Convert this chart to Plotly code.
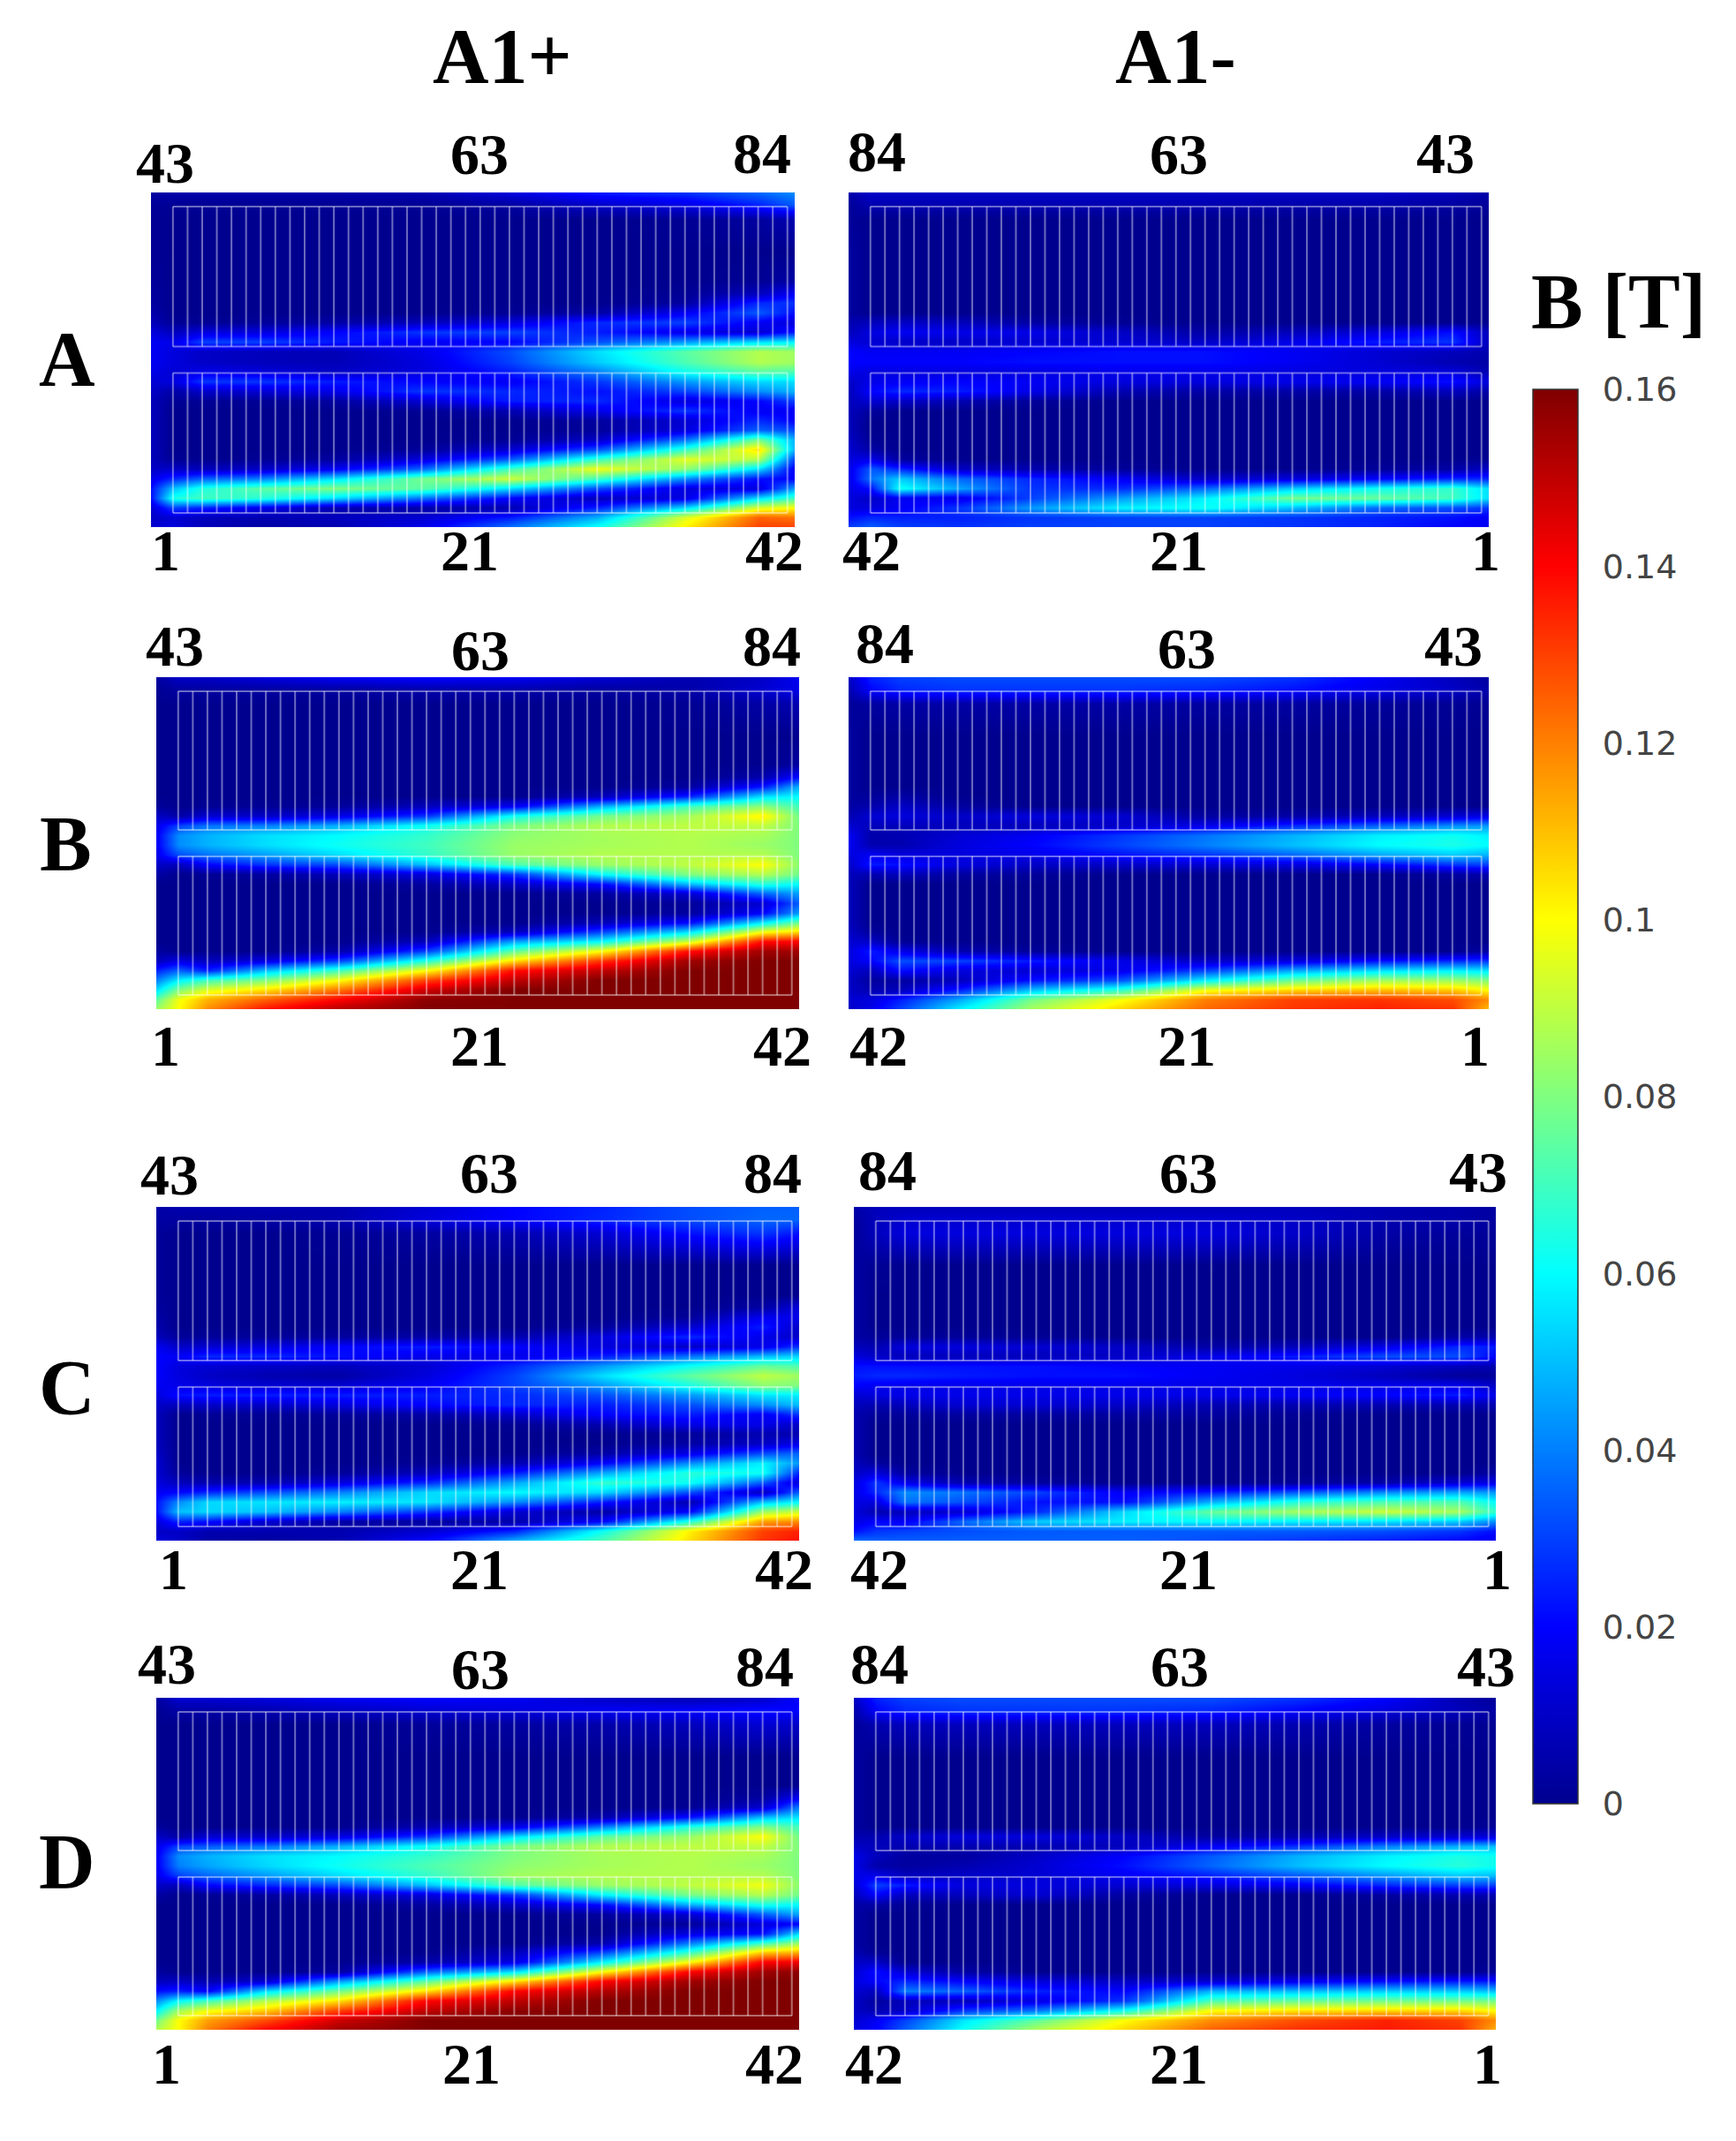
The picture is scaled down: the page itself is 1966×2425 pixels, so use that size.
import plotly.graph_objects as go

W, H = 1966, 2425
PAGE_PAD = 8  # browser body margin
SHRINK = 1966 / 1271  # label spots

# field samples in mT, rows top to bottom, columns left to right
x_cols = [-1.5, 0, 2, 6, 11, 17, 23, 29, 35, 40, 42.5]
y_rows = [0, 14, 30, 66, 100, 114, 125, 136, 147, 158, 169, 180, 191, 202, 213,
          224, 235, 246, 257, 268, 279, 290, 301, 312, 323, 334, 345, 356, 367, 378]

a_plus = [
    [3, 5, 5, 5, 5, 6, 14, 24, 28, 36, 42],
    [2, 1, 1, 1, 1, 1, 3, 10, 15, 25, 34],
    [1, 0, 0, 0, 0, 0, 0, 0, 1, 3, 6],
    [1, 0, 0, 0, 0, 0, 0, 0, 0, 0, 0],
    [2, 0, 0, 0, 0, 0, 0, 0, 0, 1, 4],
    [3, 0, 0, 0, 0, 0, 0, 0, 1, 8, 18],
    [3, 0, 0, 0, 0, 0, 0, 0, 3, 26, 28],
    [5, 0, 0, 0, 0, 0, 1, 4, 18, 34, 22],
    [8, 1, 1, 2, 4, 8, 14, 26, 30, 18, 14],
    [14, 8, 14, 14, 20, 28, 30, 24, 16, 12, 24],
    [18, 16, 30, 30, 24, 18, 20, 32, 44, 55, 58],
    [18, 14, 10, 8, 7, 16, 32, 55, 74, 88, 85],
    [18, 14, 10, 8, 7, 14, 30, 52, 72, 88, 85],
    [16, 12, 16, 14, 10, 14, 24, 40, 62, 74, 72],
    [12, 14, 28, 28, 24, 20, 18, 28, 44, 54, 55],
    [10, 4, 10, 12, 16, 28, 26, 22, 30, 42, 48],
    [8, 1, 1, 1, 3, 12, 24, 26, 14, 20, 30],
    [8, 0, 0, 0, 0, 1, 6, 16, 28, 18, 18],
    [8, 0, 0, 0, 0, 0, 0, 3, 12, 26, 20],
    [8, 0, 0, 0, 0, 0, 0, 2, 14, 35, 32],
    [8, 0, 0, 0, 0, 0, 1, 10, 38, 78, 48],
    [8, 0, 0, 0, 0, 2, 12, 32, 68, 105, 48],
    [8, 1, 0, 1, 3, 14, 34, 68, 96, 88, 30],
    [10, 10, 8, 10, 18, 36, 70, 98, 82, 55, 18],
    [16, 26, 35, 40, 55, 78, 92, 70, 42, 22, 20],
    [22, 50, 65, 74, 80, 74, 55, 32, 14, 14, 45],
    [22, 64, 70, 66, 55, 38, 20, 8, 15, 55, 70],
    [12, 30, 25, 16, 6, 4, 6, 25, 55, 95, 100],
    [10, 12, 8, 6, 8, 12, 24, 48, 95, 125, 122],
    [12, 14, 8, 4, 6, 16, 38, 62, 102, 130, 130],
]
a_minus = [
    [5, 10, 10, 10, 10, 10, 10, 10, 10, 8, 5],
    [2, 6, 6, 6, 6, 6, 6, 5, 5, 3, 2],
    [2, 0, 0, 0, 0, 0, 0, 0, 0, 0, 0],
    [3, 0, 0, 0, 0, 0, 0, 0, 0, 0, 0],
    [3, 0, 0, 0, 0, 0, 0, 0, 0, 0, 0],
    [3, 0, 0, 0, 0, 0, 0, 0, 0, 0, 0],
    [3, 0, 0, 0, 0, 0, 0, 0, 0, 0, 0],
    [3, 0, 0, 0, 0, 0, 0, 0, 0, 0, 0],
    [6, 8, 10, 8, 4, 1, 0, 0, 0, 0, 0],
    [8, 14, 18, 16, 16, 10, 4, 8, 14, 22, 8],
    [14, 12, 10, 10, 12, 12, 10, 16, 24, 28, 8],
    [20, 18, 18, 18, 20, 22, 22, 18, 12, 8, 6],
    [20, 20, 20, 20, 22, 22, 22, 18, 12, 6, 4],
    [16, 14, 14, 14, 14, 16, 16, 14, 14, 14, 6],
    [10, 16, 18, 20, 18, 14, 14, 16, 18, 22, 14],
    [8, 20, 26, 24, 16, 6, 4, 4, 4, 8, 4],
    [8, 12, 10, 6, 2, 0, 0, 0, 0, 0, 0],
    [8, 3, 0, 0, 0, 0, 0, 0, 0, 0, 0],
    [8, 0, 0, 0, 0, 0, 0, 0, 0, 0, 0],
    [8, 0, 0, 0, 0, 0, 0, 0, 0, 0, 0],
    [10, 1, 0, 0, 0, 0, 0, 0, 0, 0, 0],
    [12, 4, 0, 0, 0, 0, 0, 0, 0, 0, 0],
    [14, 16, 3, 0, 0, 0, 0, 0, 0, 0, 1],
    [16, 34, 26, 10, 6, 2, 0, 0, 2, 4, 10],
    [16, 38, 52, 36, 26, 18, 10, 14, 20, 26, 26],
    [15, 22, 62, 46, 28, 26, 36, 52, 62, 68, 55],
    [14, 10, 18, 16, 30, 44, 58, 78, 76, 70, 55],
    [14, 14, 18, 28, 44, 58, 62, 50, 36, 32, 28],
    [22, 26, 25, 25, 28, 30, 30, 28, 25, 22, 18],
    [30, 35, 30, 28, 30, 30, 30, 28, 25, 20, 18],
]
b_plus = [
    [3, 10, 10, 14, 18, 20, 18, 12, 6, 10, 18],
    [1, 3, 3, 3, 3, 5, 5, 3, 5, 12, 16],
    [0, 0, 0, 0, 0, 0, 0, 0, 1, 4, 6],
    [0, 0, 0, 0, 0, 0, 0, 0, 0, 0, 0],
    [0, 0, 0, 0, 0, 0, 0, 0, 0, 0, 3],
    [0, 0, 0, 0, 0, 0, 0, 0, 0, 5, 22],
    [0, 0, 0, 0, 0, 0, 0, 0, 3, 24, 48],
    [0, 0, 0, 0, 0, 0, 0, 8, 26, 56, 60],
    [2, 0, 1, 1, 2, 8, 18, 48, 70, 82, 70],
    [10, 4, 12, 10, 16, 28, 62, 78, 86, 102, 78],
    [16, 30, 38, 40, 48, 62, 80, 88, 90, 90, 80],
    [18, 42, 48, 55, 60, 68, 82, 86, 88, 86, 80],
    [18, 42, 48, 55, 62, 70, 84, 86, 88, 84, 80],
    [16, 32, 38, 45, 55, 68, 84, 88, 88, 88, 80],
    [10, 8, 20, 28, 32, 50, 72, 84, 90, 100, 82],
    [4, 0, 1, 3, 8, 14, 28, 60, 80, 88, 78],
    [0, 0, 0, 0, 0, 3, 10, 22, 50, 66, 60],
    [0, 0, 0, 0, 0, 0, 0, 3, 12, 35, 45],
    [0, 0, 0, 0, 0, 0, 0, 0, 2, 12, 35],
    [0, 0, 0, 0, 0, 0, 0, 0, 3, 20, 45],
    [0, 0, 0, 0, 0, 0, 0, 8, 22, 58, 78],
    [0, 0, 0, 0, 0, 0, 8, 30, 55, 98, 105],
    [0, 0, 0, 0, 0, 8, 45, 60, 92, 138, 140],
    [3, 0, 0, 0, 5, 30, 75, 100, 138, 155, 155],
    [8, 15, 8, 15, 30, 65, 105, 132, 155, 160, 160],
    [25, 35, 25, 50, 70, 100, 138, 150, 160, 160, 160],
    [40, 58, 70, 80, 100, 130, 150, 160, 160, 160, 160],
    [55, 80, 95, 105, 122, 148, 160, 160, 160, 160, 160],
    [75, 98, 112, 125, 140, 158, 160, 160, 160, 160, 160],
    [85, 100, 118, 138, 152, 160, 160, 160, 160, 160, 160],
]
b_minus = [
    [10, 25, 30, 32, 32, 32, 32, 28, 18, 8, 3],
    [6, 20, 26, 28, 28, 28, 26, 22, 16, 10, 5],
    [2, 3, 4, 4, 4, 4, 3, 3, 2, 1, 1],
    [3, 0, 0, 0, 0, 0, 0, 0, 0, 0, 0],
    [3, 0, 0, 0, 0, 0, 0, 0, 0, 0, 0],
    [3, 0, 0, 0, 0, 0, 0, 0, 0, 0, 0],
    [3, 0, 0, 0, 0, 0, 0, 0, 0, 0, 0],
    [3, 2, 4, 0, 0, 0, 0, 0, 0, 0, 0],
    [4, 5, 10, 3, 0, 0, 0, 0, 0, 0, 0],
    [6, 12, 14, 10, 14, 12, 3, 4, 8, 12, 16],
    [12, 8, 8, 8, 8, 10, 16, 26, 35, 42, 44],
    [18, 5, 6, 12, 18, 28, 38, 48, 58, 62, 58],
    [18, 6, 6, 14, 20, 30, 40, 50, 60, 64, 60],
    [14, 18, 14, 14, 16, 22, 28, 36, 46, 52, 48],
    [10, 24, 22, 14, 10, 10, 12, 14, 20, 28, 30],
    [8, 6, 8, 3, 2, 0, 0, 0, 0, 3, 6],
    [8, 0, 0, 0, 0, 0, 0, 0, 0, 0, 0],
    [8, 0, 0, 0, 0, 0, 0, 0, 0, 0, 0],
    [8, 0, 0, 0, 0, 0, 0, 0, 0, 0, 0],
    [8, 0, 0, 0, 0, 0, 0, 0, 0, 0, 0],
    [8, 0, 0, 0, 0, 0, 0, 0, 0, 0, 0],
    [10, 2, 0, 0, 0, 0, 0, 0, 0, 0, 0],
    [12, 10, 1, 0, 0, 0, 0, 0, 0, 0, 0],
    [14, 24, 16, 6, 2, 0, 0, 0, 0, 0, 4],
    [14, 20, 32, 30, 24, 16, 10, 14, 22, 26, 28],
    [12, 8, 22, 14, 12, 16, 30, 46, 55, 58, 56],
    [10, 3, 3, 8, 22, 32, 58, 76, 85, 84, 80],
    [10, 6, 8, 24, 50, 66, 98, 106, 110, 108, 100],
    [12, 14, 24, 46, 78, 98, 120, 130, 132, 128, 118],
    [10, 16, 30, 58, 86, 106, 124, 132, 135, 132, 110],
]
c_plus = [
    [4, 6, 6, 6, 6, 12, 20, 25, 32, 35, 35],
    [4, 3, 3, 4, 6, 14, 20, 26, 32, 36, 36],
    [2, 0, 0, 0, 1, 3, 6, 12, 22, 28, 22],
    [2, 0, 0, 0, 0, 0, 0, 0, 0, 0, 0],
    [2, 0, 0, 0, 0, 0, 0, 0, 0, 0, 0],
    [3, 0, 0, 0, 0, 0, 0, 0, 0, 4, 14],
    [4, 0, 0, 0, 0, 0, 0, 0, 2, 18, 16],
    [5, 0, 0, 0, 0, 0, 0, 3, 12, 24, 10],
    [8, 2, 2, 2, 3, 4, 6, 14, 26, 16, 10],
    [18, 10, 12, 14, 20, 24, 20, 14, 10, 16, 28],
    [20, 18, 26, 26, 22, 16, 16, 24, 38, 50, 54],
    [20, 14, 12, 10, 8, 12, 26, 44, 62, 76, 72],
    [20, 14, 10, 6, 4, 14, 30, 55, 75, 90, 85],
    [18, 16, 14, 12, 12, 18, 30, 44, 64, 82, 80],
    [14, 22, 24, 24, 24, 24, 26, 32, 44, 56, 58],
    [10, 8, 10, 10, 14, 20, 26, 24, 32, 42, 50],
    [8, 0, 1, 1, 2, 4, 10, 20, 24, 18, 28],
    [8, 0, 0, 0, 0, 0, 1, 6, 16, 16, 10],
    [8, 0, 0, 0, 0, 0, 0, 0, 2, 6, 6],
    [8, 0, 0, 0, 0, 0, 0, 0, 4, 10, 16],
    [10, 0, 0, 0, 0, 0, 0, 4, 16, 32, 36],
    [12, 0, 0, 0, 0, 1, 6, 20, 42, 58, 44],
    [12, 2, 0, 0, 2, 8, 24, 46, 66, 62, 26],
    [14, 8, 6, 6, 14, 26, 46, 68, 62, 34, 12],
    [18, 20, 26, 32, 40, 54, 60, 54, 32, 8, 35],
    [22, 42, 54, 56, 58, 56, 42, 24, 6, 50, 60],
    [22, 50, 54, 50, 40, 28, 12, 4, 20, 85, 92],
    [14, 26, 22, 12, 4, 3, 5, 20, 65, 115, 118],
    [10, 10, 6, 6, 6, 12, 25, 62, 102, 130, 135],
    [14, 10, 4, 3, 6, 20, 48, 72, 105, 132, 138],
]
c_minus = [
    [5, 8, 8, 8, 8, 8, 8, 8, 6, 5, 3],
    [3, 8, 12, 12, 12, 12, 12, 10, 6, 5, 3],
    [2, 8, 14, 14, 14, 14, 14, 10, 4, 2, 2],
    [3, 1, 0, 0, 0, 0, 0, 0, 0, 0, 0],
    [4, 0, 0, 0, 0, 0, 0, 0, 0, 0, 0],
    [4, 0, 0, 0, 0, 0, 0, 0, 0, 0, 0],
    [4, 0, 0, 0, 0, 0, 0, 0, 0, 0, 0],
    [4, 0, 0, 0, 0, 0, 0, 0, 0, 0, 0],
    [4, 2, 2, 2, 1, 0, 0, 0, 0, 4, 6],
    [8, 6, 14, 14, 12, 10, 4, 8, 16, 26, 24],
    [14, 10, 8, 8, 8, 10, 16, 24, 32, 32, 20],
    [22, 22, 22, 22, 22, 20, 18, 16, 12, 8, 6],
    [24, 26, 26, 24, 22, 22, 18, 14, 8, 2, 2],
    [20, 18, 16, 16, 16, 16, 16, 16, 16, 16, 10],
    [12, 14, 16, 16, 16, 16, 16, 18, 20, 24, 16],
    [8, 6, 8, 12, 12, 10, 6, 6, 6, 6, 6],
    [6, 2, 2, 3, 3, 3, 3, 1, 0, 0, 0],
    [6, 0, 0, 0, 0, 0, 0, 0, 0, 0, 0],
    [6, 0, 0, 0, 0, 0, 0, 0, 0, 0, 0],
    [6, 0, 0, 0, 0, 0, 0, 0, 0, 0, 0],
    [6, 0, 0, 0, 0, 0, 0, 0, 0, 0, 0],
    [8, 3, 0, 0, 0, 0, 0, 0, 0, 0, 0],
    [10, 14, 3, 0, 0, 0, 0, 0, 0, 0, 4],
    [14, 28, 16, 6, 3, 0, 0, 2, 5, 12, 16],
    [15, 26, 42, 38, 30, 18, 24, 34, 42, 46, 44],
    [15, 14, 38, 32, 22, 22, 48, 66, 72, 72, 60],
    [14, 6, 8, 12, 26, 54, 76, 86, 92, 86, 68],
    [15, 20, 18, 36, 52, 58, 60, 58, 56, 52, 42],
    [22, 28, 30, 32, 34, 34, 34, 34, 32, 28, 22],
    [38, 35, 35, 35, 35, 35, 32, 28, 24, 20, 16],
]
d_plus = [
    [3, 12, 12, 14, 18, 20, 18, 10, 6, 10, 20],
    [1, 4, 4, 6, 9, 12, 14, 18, 20, 22, 20],
    [0, 0, 0, 0, 0, 2, 3, 5, 8, 12, 10],
    [0, 0, 0, 0, 0, 0, 0, 0, 0, 0, 0],
    [0, 0, 0, 0, 0, 0, 0, 0, 0, 0, 0],
    [0, 0, 0, 0, 0, 0, 0, 0, 0, 3, 18],
    [0, 0, 0, 0, 0, 0, 0, 0, 1, 12, 40],
    [0, 0, 0, 0, 0, 0, 0, 5, 22, 50, 56],
    [2, 0, 0, 0, 0, 6, 16, 40, 65, 80, 70],
    [10, 4, 12, 10, 15, 28, 55, 75, 84, 100, 78],
    [16, 30, 34, 38, 48, 62, 80, 88, 90, 90, 80],
    [18, 42, 48, 55, 60, 68, 80, 86, 88, 86, 80],
    [18, 40, 46, 54, 62, 72, 82, 86, 88, 84, 80],
    [16, 30, 36, 44, 55, 68, 85, 88, 88, 88, 80],
    [10, 8, 20, 26, 32, 50, 72, 84, 90, 98, 82],
    [4, 0, 1, 3, 8, 14, 28, 58, 78, 88, 78],
    [0, 0, 0, 0, 0, 3, 10, 22, 48, 64, 60],
    [0, 0, 0, 0, 0, 0, 0, 3, 12, 34, 46],
    [0, 0, 0, 0, 0, 0, 0, 0, 2, 14, 20],
    [0, 0, 0, 0, 0, 0, 0, 0, 15, 22, 55],
    [0, 0, 0, 0, 0, 0, 0, 6, 40, 70, 85],
    [0, 0, 0, 0, 0, 0, 8, 30, 68, 108, 112],
    [0, 0, 0, 0, 0, 5, 15, 58, 100, 140, 142],
    [3, 0, 0, 0, 3, 35, 55, 100, 140, 155, 158],
    [8, 10, 6, 12, 45, 75, 105, 140, 155, 160, 160],
    [22, 25, 20, 55, 78, 105, 140, 152, 160, 160, 160],
    [42, 60, 70, 88, 105, 140, 150, 160, 160, 160, 160],
    [58, 85, 98, 108, 130, 150, 158, 160, 160, 160, 160],
    [78, 100, 115, 128, 148, 160, 160, 160, 160, 160, 160],
    [88, 100, 120, 140, 155, 160, 160, 160, 160, 160, 160],
]
d_minus = [
    [10, 25, 30, 32, 32, 32, 32, 28, 20, 6, 2],
    [5, 20, 26, 28, 28, 28, 26, 20, 14, 8, 4],
    [2, 6, 8, 8, 8, 8, 8, 6, 3, 1, 1],
    [3, 0, 0, 0, 0, 0, 0, 0, 0, 0, 0],
    [3, 0, 0, 0, 0, 0, 0, 0, 0, 0, 0],
    [3, 0, 0, 0, 0, 0, 0, 0, 0, 0, 0],
    [3, 0, 0, 0, 0, 0, 0, 0, 0, 0, 0],
    [3, 0, 0, 0, 0, 0, 0, 0, 0, 0, 0],
    [3, 0, 0, 0, 0, 0, 0, 0, 0, 0, 2],
    [6, 6, 10, 14, 14, 10, 3, 6, 10, 12, 14],
    [10, 8, 6, 6, 6, 8, 18, 28, 40, 48, 50],
    [16, 8, 3, 3, 10, 20, 34, 48, 58, 64, 62],
    [16, 5, 3, 6, 12, 22, 36, 50, 60, 66, 62],
    [16, 16, 8, 10, 12, 18, 25, 34, 44, 52, 50],
    [12, 30, 24, 14, 14, 12, 14, 18, 26, 30, 30],
    [8, 20, 8, 8, 12, 3, 0, 0, 3, 6, 6],
    [4, 4, 1, 0, 0, 0, 0, 0, 0, 0, 0],
    [4, 0, 0, 0, 0, 0, 0, 0, 0, 0, 0],
    [4, 0, 0, 0, 0, 0, 0, 0, 0, 0, 0],
    [4, 0, 0, 0, 0, 0, 0, 0, 0, 0, 0],
    [4, 0, 0, 0, 0, 0, 0, 0, 0, 0, 0],
    [6, 1, 0, 0, 0, 0, 0, 0, 0, 0, 0],
    [10, 10, 0, 0, 0, 0, 0, 0, 0, 0, 0],
    [12, 22, 12, 4, 0, 0, 0, 0, 0, 0, 2],
    [14, 20, 26, 20, 14, 10, 12, 18, 22, 24, 24],
    [12, 8, 40, 35, 25, 20, 48, 50, 52, 52, 50],
    [10, 3, 8, 8, 15, 28, 72, 76, 78, 78, 78],
    [10, 6, 10, 28, 38, 62, 100, 104, 106, 106, 100],
    [12, 18, 30, 56, 75, 100, 118, 128, 135, 130, 118],
    [14, 20, 35, 62, 88, 106, 125, 133, 136, 132, 112],
]

tick_vals = [0, 0.02, 0.04, 0.06, 0.08, 0.1, 0.12, 0.14, 0.16]
tick_text = ["0", "0.02", "0.04", "0.06", "0.08", "0.1", "0.12", "0.14", "0.16"]

jet = [[0, "#00008f"], [0.125, "#0000ff"], [0.375, "#00ffff"], [0.625, "#ffff00"],
       [0.875, "#ff0000"], [1, "#800000"]]

# the two coil blocks, 42 turns each
turn_edges = list(range(43))
coil_rows = [(16, 174), (204, 362)]

# (field, left, right, top, bottom) in page pixels
panels = [
    (a_plus, 171, 900, 218, 597),
    (a_minus, 961, 1686, 218, 597),
    (b_plus, 177, 905, 767, 1143),
    (b_minus, 961, 1686, 767, 1143),
    (c_plus, 177, 905, 1367, 1745),
    (c_minus, 967, 1694, 1367, 1745),
    (d_plus, 177, 905, 1923, 2299),
    (d_minus, 967, 1694, 1923, 2299),
]

# turn numbers, placed where the figure has them (shrunk picture pixels)
turn_labels = [
    ("43", 121, 119), ("63", 351, 113), ("84", 558, 112), ("1", 121, 403), ("21", 344, 403), ("42", 567, 403),
    ("84", 642, 111), ("63", 863, 113), ("43", 1058, 112), ("42", 638, 403), ("21", 863, 403), ("1", 1088, 403),
    ("43", 128, 473), ("63", 352, 476), ("84", 565, 473), ("1", 121, 766), ("21", 351, 766), ("42", 573, 766),
    ("84", 648, 471), ("63", 869, 475), ("43", 1064, 473), ("42", 643, 766), ("21", 869, 766), ("1", 1080, 766),
    ("43", 124, 860), ("63", 358, 859), ("84", 566, 859), ("1", 127, 1149), ("21", 351, 1149), ("42", 574, 1149),
    ("84", 650, 857), ("63", 870, 859), ("43", 1082, 858), ("42", 644, 1149), ("21", 870, 1149), ("1", 1096, 1149),
    ("43", 122, 1218), ("63", 352, 1222), ("84", 560, 1220), ("1", 122, 1511), ("21", 345, 1511), ("42", 567, 1511),
    ("84", 644, 1218), ("63", 864, 1220), ("43", 1088, 1220), ("42", 640, 1511), ("21", 863, 1511), ("1", 1089, 1511),
]
big_labels = [("A1+", 368, 41), ("A1-", 861, 41), ("A", 49, 263), ("B", 48, 618), ("C", 49, 1016),
              ("D", 49, 1363), ("B [T]", 1185, 221)]

plot_w = W - 2 * PAGE_PAD
plot_h = H - 2 * PAGE_PAD


def px_x(p):
    return (p - PAGE_PAD) / plot_w


def px_y(p):
    return 1 - (p - PAGE_PAD) / plot_h


fig = go.Figure()
layout_axes = {}

# coil outlines as one broken line
coil_x = []
coil_y = []
for top, bottom in coil_rows:
    for edge in turn_edges:
        coil_x += [edge, edge, None]
        coil_y += [top, bottom, None]
    coil_x += [turn_edges[0], turn_edges[-1], None, turn_edges[0], turn_edges[-1], None]
    coil_y += [top, top, None, bottom, bottom, None]

for n, (field, left, right, top, bottom) in enumerate(panels, start=1):
    suffix = "" if n == 1 else str(n)
    fig.add_trace(go.Heatmap(x=x_cols, y=y_rows, z=[[v / 1000 for v in row] for row in field],
                             coloraxis="coloraxis", zsmooth="best", xaxis="x" + suffix, yaxis="y" + suffix,
                             hoverinfo="skip"))
    fig.add_trace(go.Scatter(x=coil_x, y=coil_y, mode="lines", xaxis="x" + suffix, yaxis="y" + suffix,
                             line=dict(color="rgba(255,255,255,0.42)", width=2), hoverinfo="skip",
                             showlegend=False))
    layout_axes["xaxis" + suffix] = dict(domain=[px_x(left), px_x(right)], range=[-1.5, 42.5], visible=False,
                                         anchor="y" + suffix)
    layout_axes["yaxis" + suffix] = dict(domain=[px_y(bottom), px_y(top)], range=[378, 0], visible=False,
                                         anchor="x" + suffix)

annots = []
for text, x, y in turn_labels:
    annots.append(dict(text="<b>" + text + "</b>", x=px_x(x * SHRINK), y=px_y(y * SHRINK), xref="paper", yref="paper",
                       xanchor="center", yanchor="middle", showarrow=False,
                       font=dict(family="Liberation Serif", size=66, color="black")))
for text, x, y in big_labels:
    annots.append(dict(text="<b>" + text + "</b>", x=px_x(x * SHRINK), y=px_y(y * SHRINK), xref="paper", yref="paper",
                       xanchor="center", yanchor="middle", showarrow=False,
                       font=dict(family="Liberation Serif", size=88, color="black")))

fig.update_layout(
    width=plot_w, height=plot_h, autosize=False,
    margin=dict(l=0, r=0, t=0, b=0),
    paper_bgcolor="white", plot_bgcolor="white",
    showlegend=False,
    annotations=annots,
    coloraxis=dict(
        colorscale=jet, cmin=0, cmax=0.16,
        colorbar=dict(
            x=px_x(1736), xanchor="left", xpad=0, ypad=0,
            y=px_y(441), yanchor="top",
            len=(2043 - 441) / plot_h, lenmode="fraction",
            thickness=51, thicknessmode="pixels",
            tickmode="array", tickvals=tick_vals, ticktext=tick_text,
            ticks="outside", ticklen=20, tickcolor="rgba(0,0,0,0)",
            tickfont=dict(family="DejaVu Sans", size=38, color="#444444"),
            outlinecolor="#333333", outlinewidth=1.5,
        ),
    ),
    **layout_axes,
)

fig.write_html("out.html")
